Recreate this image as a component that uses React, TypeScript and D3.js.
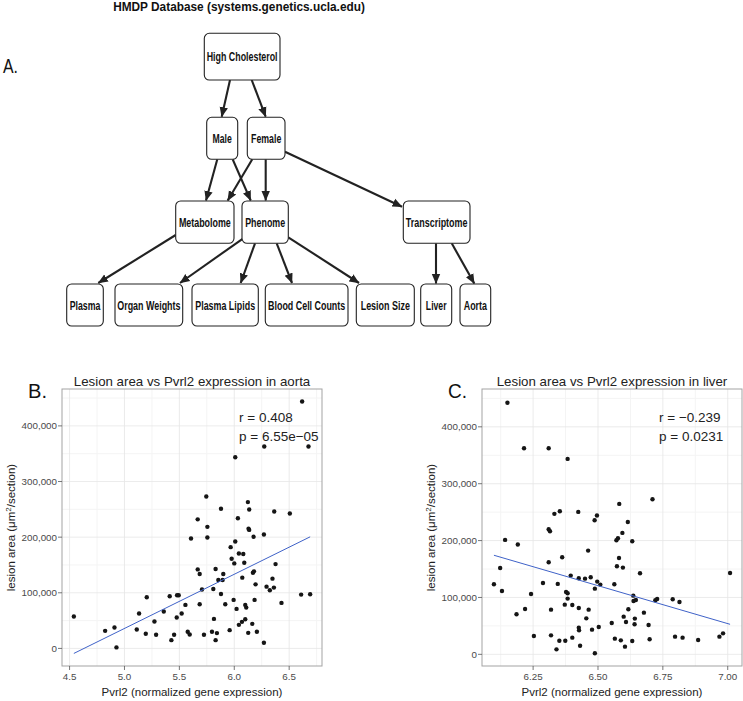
import React, { useLayoutEffect, useRef } from 'react';
import * as d3 from 'd3';

const W = 743;
const H = 701;

// ---------------- Diagram content ----------------
const diagramTitle = 'HMDP Database (systems.genetics.ucla.edu)';
const nodeLabels = [
  'High Cholesterol', 'Male', 'Female', 'Metabolome', 'Phenome', 'Transcriptome',
  'Plasma', 'Organ Weights', 'Plasma Lipids', 'Blood Cell Counts', 'Lesion Size', 'Liver', 'Aorta',
];
const edgeList: [string, string][] = [
  ['High Cholesterol', 'Male'],
  ['High Cholesterol', 'Female'],
  ['Male', 'Metabolome'],
  ['Male', 'Phenome'],
  ['Female', 'Metabolome'],
  ['Female', 'Phenome'],
  ['Female', 'Transcriptome'],
  ['Metabolome', 'Plasma'],
  ['Phenome', 'Organ Weights'],
  ['Phenome', 'Plasma Lipids'],
  ['Phenome', 'Blood Cell Counts'],
  ['Phenome', 'Lesion Size'],
  ['Transcriptome', 'Liver'],
  ['Transcriptome', 'Aorta'],
];

// ---------------- Scatter data ----------------
const aortaX = [
  4.539, 4.824, 4.909, 4.927, 5.112, 5.133, 5.203, 5.194, 5.273, 5.288,
  5.358, 5.412, 5.427, 5.452, 5.479, 5.494, 5.476, 5.521, 5.555, 5.576,
  5.594, 5.606, 5.667, 5.667, 5.685, 5.685, 5.706, 5.724, 5.755, 5.755,
  5.797, 5.809, 5.815, 5.830, 5.830, 5.842, 5.855, 5.879, 5.879, 5.894,
  5.900, 5.918, 5.958, 5.967, 5.976, 5.994, 6.000, 6.009, 6.021, 6.033,
  6.042, 6.042, 6.070, 6.073, 6.082, 6.091, 6.100, 6.100, 6.109, 6.124,
  6.127, 6.130, 6.136, 6.136, 6.164, 6.170, 6.176, 6.179, 6.185, 6.194,
  6.206, 6.270, 6.270, 6.294, 6.324, 6.348, 6.361, 6.364, 6.376, 6.430,
  6.506, 6.609, 6.691, 6.618, 6.273, 6.676, 6.009, 5.745,
];
const aortaLesion = [
  57300, 31600, 37600, 1800, 34000, 62700, 92000, 26300, 48400, 24500,
  66300, 93700, 14900, 24500, 95500, 95500, 55500, 62700, 78200, 29900,
  25100, 197600, 232000, 142000, 133700, 79400, 106000, 24500, 218500, 199400,
  29900, 106900, 53100, 142700, 14900, 27500, 123000, 251000, 97900, 123000,
  133700, 79400, 32800, 182000, 161200, 87200, 152800, 192200, 71000, 234000,
  42400, 170700, 47800, 127200, 169600, 154000, 52500, 78200, 73400, 263000,
  28000, 215000, 213000, 249600, 44200, 136000, 200600, 138500, 87200, 115200,
  29900, 204800, 10100, 111000, 104500, 125400, 109300, 246000, 151600, 81800,
  242400, 96700, 97300, 443700, 362900, 362900, 343700, 273000,
];
const aortaFitX = [4.539, 6.691];
const aortaFitY = [-9000, 200600];

const liverX = [
  6.099, 6.123, 6.130, 6.142, 6.186, 6.191, 6.219, 6.242, 6.253, 6.288,
  6.310, 6.310, 6.315, 6.319, 6.319, 6.332, 6.340, 6.345, 6.351, 6.353,
  6.362, 6.372, 6.374, 6.377, 6.383, 6.383, 6.395, 6.401, 6.401, 6.424,
  6.426, 6.426, 6.426, 6.427, 6.431, 6.450, 6.455, 6.462, 6.464, 6.472,
  6.477, 6.487, 6.488, 6.488, 6.496, 6.497, 6.503, 6.509, 6.553, 6.563,
  6.565, 6.571, 6.573, 6.577, 6.581, 6.582, 6.588, 6.594, 6.596, 6.599,
  6.604, 6.608, 6.615, 6.617, 6.632, 6.632, 6.636, 6.637, 6.641, 6.642,
  6.646, 6.662, 6.677, 6.695, 6.699, 6.721, 6.728, 6.788, 6.797, 6.814,
  6.826, 6.886, 6.968, 6.982, 7.009, 6.151, 6.215, 6.310, 6.383, 6.710,
];
const liverLesion = [
  123200, 151900, 111400, 201200, 70400, 193000, 79800, 106200, 32300, 125500,
  161900, 220000, 216400, 33400, 78600, 247000, 8800, 123800, 24000, 251600,
  170700, 87400, 24000, 109700, 107300, 98000, 138400, 86800, 29300, 250400,
  133700, 81500, 46900, 42200, 15200, 133100, 63300, 182400, 78600, 135500,
  43400, 235800, 115500, 1800, 244000, 127900, 48100, 122600, 55100, 123200,
  27600, 200600, 154800, 204100, 169500, 264500, 24600, 213500, 152500, 66300,
  13500, 56900, 232800, 79200, 198800, 23500, 103200, 93800, 52800, 62800,
  95600, 142500, 73300, 51600, 26400, 95000, 97400, 96800, 31100, 92100,
  29300, 25200, 31100, 36900, 143100, 442400, 362200, 362200, 343600, 272700,
];
const liverFitX = [6.099, 7.009];
const liverFitY = [174200, 52800];

const yTickValues = [0, 100000, 200000, 300000, 400000];
const aortaXTicks = [4.5, 5.0, 5.5, 6.0, 6.5];
const liverXTicks = [6.25, 6.5, 6.75, 7.0];

// ---------------- Diagram layout ----------------
const boxLayout: Record<string, [number, number, number, number, number]> = {
  // x0, x1, y0, y1, text width
  'High Cholesterol': [204.3, 280, 33.3, 80, 71],
  'Male': [206.7, 237.7, 117.3, 159.3, 19.3],
  'Female': [247.3, 285, 117.3, 159.3, 30.3],
  'Metabolome': [175.7, 234, 201, 243.3, 52],
  'Phenome': [242, 288.3, 201, 243.3, 40],
  'Transcriptome': [403.3, 470, 201, 243.3, 61.7],
  'Plasma': [66.7, 103.3, 284, 326, 30.7],
  'Organ Weights': [115, 182.7, 284, 326, 63.3],
  'Plasma Lipids': [192, 258.3, 284, 326, 60],
  'Blood Cell Counts': [265.3, 348, 284, 326, 77.3],
  'Lesion Size': [356.3, 414.3, 284, 326, 49.3],
  'Liver': [420.7, 451.7, 284, 326, 20.7],
  'Aorta': [460, 490.7, 284, 326, 23.3],
};
const edgeLayout: Record<string, [number, number, number, number]> = {
  'High Cholesterol>Male': [230, 80, 221.7, 116.7],
  'High Cholesterol>Female': [251.7, 80, 265.7, 116.7],
  'Male>Metabolome': [217.3, 159.3, 206, 200.5],
  'Male>Phenome': [232.7, 159.3, 250.7, 200.5],
  'Female>Metabolome': [252.3, 159.3, 227.7, 200.5],
  'Female>Phenome': [265.7, 159.3, 265.7, 200.5],
  'Female>Transcriptome': [285, 151.7, 402, 206.7],
  'Metabolome>Plasma': [175.7, 235, 98.3, 283],
  'Phenome>Organ Weights': [243.3, 238.3, 180, 283],
  'Phenome>Plasma Lipids': [255, 243.3, 240.7, 283],
  'Phenome>Blood Cell Counts': [276.7, 243.3, 292, 283],
  'Phenome>Lesion Size': [288.3, 237.3, 359, 283],
  'Transcriptome>Liver': [436, 243.3, 436, 283.5],
  'Transcriptome>Aorta': [451.7, 243.3, 474.3, 283.5],
};

const SANS = '"Liberation Sans", Arial, Helvetica, sans-serif';
const NARROW = '"Liberation Sans Narrow", "Arial Narrow", "Liberation Sans", Arial, sans-serif';

// Text horizontally squeezed to a target width (measured, then scaled)
function FitText(props: { cx: number; y: number; width: number; size: number; children: string; bold?: boolean; family?: string; anchor?: string }) {
  const ref = useRef<SVGTextElement>(null);
  const { cx, y, width, size, bold, family, anchor } = props;
  useLayoutEffect(() => {
    const el = ref.current;
    if (!el) return;
    const natural = el.getComputedTextLength() || width;
    const k = width / natural;
    el.setAttribute('transform', `translate(${cx},${y}) scale(${k},1)`);
  });
  return (
    <text ref={ref} x={0} y={0} transform={`translate(${cx},${y})`} textAnchor={anchor || 'middle'}
      fontFamily={family || NARROW} fontWeight={bold ? 'bold' : 'normal'} fontSize={size} fill="#111">
      {props.children}
    </text>
  );
}

function Diagram() {
  return (
    <g>
      <defs>
        <marker id="arrowHead" markerUnits="userSpaceOnUse" markerWidth="10" markerHeight="10"
          viewBox="0 0 10 10" refX="9.5" refY="5" orient="auto">
          <path d="M0,0.8 L10,5 L0,9.2 Z" fill="#222" />
        </marker>
      </defs>
      <FitText cx={239} y={10.5} width={252} size={13.5} bold>{diagramTitle}</FitText>
      <FitText cx={3} y={73} width={15} size={21} anchor="start" family={SANS}>A.</FitText>
      {edgeList.map(([a, b]) => {
        const e = edgeLayout[`${a}>${b}`];
        return (
          <line key={a + b} x1={e[0]} y1={e[1]} x2={e[2]} y2={e[3]} stroke="#222" strokeWidth={2.1}
            markerEnd="url(#arrowHead)" />
        );
      })}
      {nodeLabels.map((n) => {
        const [x0, x1, y0, y1, tl] = boxLayout[n];
        const cx = (x0 + x1) / 2;
        const cy = (y0 + y1) / 2;
        return (
          <g key={n}>
            <rect x={x0} y={y0} width={x1 - x0} height={y1 - y0} rx={5} ry={5}
              fill="#fff" stroke="#222" strokeWidth={1.1} />
            <FitText cx={cx} y={cy + 4.5} width={tl} size={13} bold>{n}</FitText>
          </g>
        );
      })}
    </g>
  );
}

type ScatterProps = {
  xs: number[]; ys: number[]; fitX: number[]; fitY: number[];
  xDomain: [number, number]; yDomain: [number, number];
  xTicks: number[]; xFmt: string;
  left: number; right: number; top: number; bottom: number;
  title: string; rText: string; pText: string; panelLabel: string;
};

function Scatter(p: ScatterProps) {
  const x = d3.scaleLinear().domain(p.xDomain).range([p.left, p.right]);
  const y = d3.scaleLinear().domain(p.yDomain).range([p.bottom, p.top]);
  const xStep = p.xTicks[1] - p.xTicks[0];
  const xMinor: number[] = [];
  for (let i = -1; i < p.xTicks.length; i++) {
    const v = p.xTicks[0] + (i + 0.5) * xStep;
    if (v > p.xDomain[0] && v < p.xDomain[1]) xMinor.push(v);
  }
  const yMinor: number[] = [];
  for (let i = -1; i < yTickValues.length; i++) {
    const v = yTickValues[0] + (i + 0.5) * 100000;
    if (v > p.yDomain[0] && v < p.yDomain[1]) yMinor.push(v);
  }
  const fmtY = d3.format(',');
  const fmtX = d3.format(p.xFmt);
  const line = d3.line<number>().x((d, i) => x(p.fitX[i])).y((d, i) => y(p.fitY[i]));
  const midY = (p.top + p.bottom) / 2;
  const midX = (p.left + p.right) / 2;
  return (
    <g fontFamily={SANS}>
      <rect x={p.left} y={p.top} width={p.right - p.left} height={p.bottom - p.top} fill="#fff" />
      {xMinor.map((v) => (
        <line key={'xm' + v} x1={x(v)} x2={x(v)} y1={p.top} y2={p.bottom} stroke="#f4f4f4" strokeWidth={1} />
      ))}
      {yMinor.map((v) => (
        <line key={'ym' + v} y1={y(v)} y2={y(v)} x1={p.left} x2={p.right} stroke="#f4f4f4" strokeWidth={1} />
      ))}
      {p.xTicks.map((v) => (
        <line key={'xg' + v} x1={x(v)} x2={x(v)} y1={p.top} y2={p.bottom} stroke="#e6e6e6" strokeWidth={0.8} />
      ))}
      {yTickValues.map((v) => (
        <line key={'yg' + v} y1={y(v)} y2={y(v)} x1={p.left} x2={p.right} stroke="#e6e6e6" strokeWidth={0.8} />
      ))}
      {p.xs.map((xv, i) => (
        <circle key={i} cx={x(xv)} cy={y(p.ys[i])} r={2.2} fill="#151515" />
      ))}
      <path d={line(p.fitX) || ''} fill="none" stroke="#3f62c8" strokeWidth={1} />
      <rect x={p.left} y={p.top} width={p.right - p.left} height={p.bottom - p.top} fill="none"
        stroke="#a3a3a3" strokeWidth={1} />
      {yTickValues.map((v) => (
        <g key={'yt' + v}>
          <line x1={p.left - 4} x2={p.left} y1={y(v)} y2={y(v)} stroke="#555" strokeWidth={0.8} />
          <text x={p.left - 5} y={y(v) + 3.4} textAnchor="end" fontSize={9.8} fill="#4a4a4a">{fmtY(v)}</text>
        </g>
      ))}
      {p.xTicks.map((v) => (
        <g key={'xt' + v}>
          <line x1={x(v)} x2={x(v)} y1={p.bottom} y2={p.bottom + 4} stroke="#555" strokeWidth={0.8} />
          <text x={x(v)} y={p.bottom + 13.5} textAnchor="middle" fontSize={9.8} fill="#4a4a4a">{fmtX(v)}</text>
        </g>
      ))}
      <text x={midX} y={p.top - 3} textAnchor="middle" fontSize={13.3} fill="#222">{p.title}</text>
      <text x={midX} y={695.5} textAnchor="middle" fontSize={11.5} fill="#222">Pvrl2 (normalized gene expression)</text>
      <text transform={`translate(${p.left - 47},${midY}) rotate(-90)`} textAnchor="middle" fontSize={11.5} fill="#222">
        lesion area (μm<tspan dy={-4} fontSize={8}>2</tspan><tspan dy={4}>/section)</tspan>
      </text>
      <text x={p.left + 177} y={p.top + 33} fontSize={13.5} fill="#222">{p.rText}</text>
      <text x={p.left + 177} y={p.top + 52} fontSize={13.5} fill="#222">{p.pText}</text>
      <FitText cx={p.left - 34} y={p.top + 9} width={19} size={21} anchor="start" family={SANS}>{p.panelLabel}</FitText>
    </g>
  );
}

export default function App() {
  return (
    <svg width={W} height={H} viewBox={`0 0 ${W} ${H}`}
      style={{ position: 'absolute', left: 0, top: 0, background: '#fff' }}>
      <rect x={0} y={0} width={W} height={H} fill="#fff" />
      <Diagram />
      <Scatter xs={aortaX} ys={aortaLesion} fitX={aortaFitX} fitY={aortaFitY}
        xDomain={[4.431, 6.799]} yDomain={[-31600, 466300]} xTicks={aortaXTicks} xFmt=".1f"
        left={62} right={322} top={389} bottom={666}
        title="Lesion area vs Pvrl2 expression in aorta" rText="r = 0.408" pText="p = 6.55e−05" panelLabel="B." />
      <Scatter xs={liverX} ys={liverLesion} fitX={liverFitX} fitY={liverFitY}
        xDomain={[6.053, 7.055]} yDomain={[-20500, 466500]} xTicks={liverXTicks} xFmt=".2f"
        left={482} right={742} top={389} bottom={666}
        title="Lesion area vs Pvrl2 expression in liver" rText="r = −0.239" pText="p = 0.0231" panelLabel="C." />
    </svg>
  );
}
